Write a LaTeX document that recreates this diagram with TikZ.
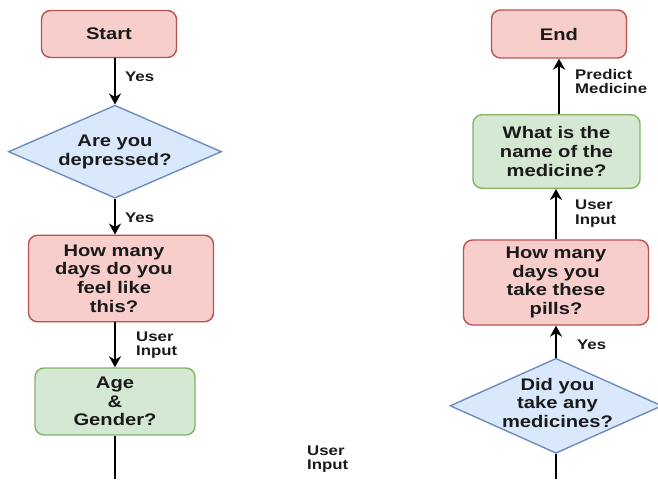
\documentclass[tikz,border=0pt]{standalone}
\usepackage{fontspec}
\usetikzlibrary{shapes.geometric,arrows.meta}
\newfontfamily\diagfont{Liberation Sans}[FakeStretch=1.2]

\definecolor{redfill}{HTML}{F8CECC}
\definecolor{redline}{HTML}{B85450}
\definecolor{bluefill}{HTML}{DAE8FC}
\definecolor{blueline}{HTML}{6C8EBF}
\definecolor{greenfill}{HTML}{D5E8D4}
\definecolor{greenline}{HTML}{82B366}
\definecolor{ink}{HTML}{1A1A1A}

\tikzset{
  x=1pt, y=-1pt,
  boxtext/.style={text=ink, align=center,
    font=\diagfont\bfseries\fontsize{16.8}{18.7}\selectfont},
  redbox/.style={boxtext, draw=redline, fill=redfill, line width=1.4pt,
    rounded corners=9pt, inner sep=0pt},
  greenbox/.style={boxtext, draw=greenline, fill=greenfill, line width=1.4pt,
    rounded corners=9pt, inner sep=0pt},
  decision/.style={diamond, draw=blueline, fill=bluefill,
    line width=1.4pt, inner sep=0pt},
  edgelabel/.style={text=ink, anchor=west, align=left, inner sep=0pt,
    font=\diagfont\bfseries\fontsize{14}{14.3}\selectfont},
  arr/.style={draw=black, line width=1.9pt,
    -{Stealth[length=11pt, width=12pt, inset=3.5pt]}},
  plain/.style={draw=black, line width=1.9pt},
}

\begin{document}
\begin{tikzpicture}
  \useasboundingbox (0,0) rectangle (658,479);
  \clip (0,0) rectangle (658,479);

  % left column: symptoms
  \node[redbox, minimum width=135pt, minimum height=47pt] (start) at (109,34) {Start};
  \node[decision, minimum width=213pt, minimum height=93pt,
    label={[boxtext]center:Are you\\depressed?}] (depressed) at (115,151.7) {};
  \node[redbox, minimum width=185pt, minimum height=86.5pt,
    label={[boxtext, xshift=-7pt]center:How many\\days do you\\feel like\\this?}]
    (howlong) at (121,278.5) {};
  \node[greenbox, minimum width=160pt, minimum height=67pt] (agegender) at (115,401.5)
    {Age\\\&\\Gender?};
  \coordinate (leftout) at (115,479);

  % right column: medication
  \node[redbox, minimum width=135pt, minimum height=48pt] (finish) at (559,34) {End};
  \node[greenbox, minimum width=167pt, minimum height=73.5pt] (medname) at (556.5,151.5)
    {What is the\\name of the\\medicine?};
  \node[redbox, minimum width=185pt, minimum height=85pt] (pilldays) at (556,282.5)
    {How many\\days you\\take these\\pills?};
  \node[decision, minimum width=212pt, minimum height=95pt,
    label={[boxtext, xshift=1.5pt, yshift=3pt]center:Did you\\take any\\medicines?}]
    (tookmeds) at (556,405.8) {};
  \coordinate (rightin) at (556,479);

  % connectors
  \draw[arr] (start.south -| depressed.north) -- (depressed.north);
  \draw[arr] (depressed.south) -- (depressed.south |- howlong.north);
  \draw[arr] (howlong.south -| agegender.north) -- (agegender.north);
  \draw[plain] (agegender.south) -- (leftout);

  \draw[plain] (rightin) -- (tookmeds.south);
  \draw[arr] (tookmeds.north) -- (tookmeds.north |- pilldays.south);
  \draw[arr] (pilldays.north) -- (pilldays.north |- medname.south);
  \draw[arr] (medname.north -| finish.south) -- (finish.south);

  % connector labels
  \node[edgelabel] (yes1) at (125,77) {Yes};
  \node[edgelabel] (yes2) at (125,218) {Yes};
  \node[edgelabel] (input1) at (136,345) {User\\Input};
  \node[edgelabel] (input2) at (307,459) {User\\Input};
  \node[edgelabel] (yes3) at (577,345) {Yes};
  \node[edgelabel] (input3) at (575,213.5) {User\\Input};
  \node[edgelabel] (predict) at (575,81.5) {Predict\\Medicine};
\end{tikzpicture}
\end{document}
